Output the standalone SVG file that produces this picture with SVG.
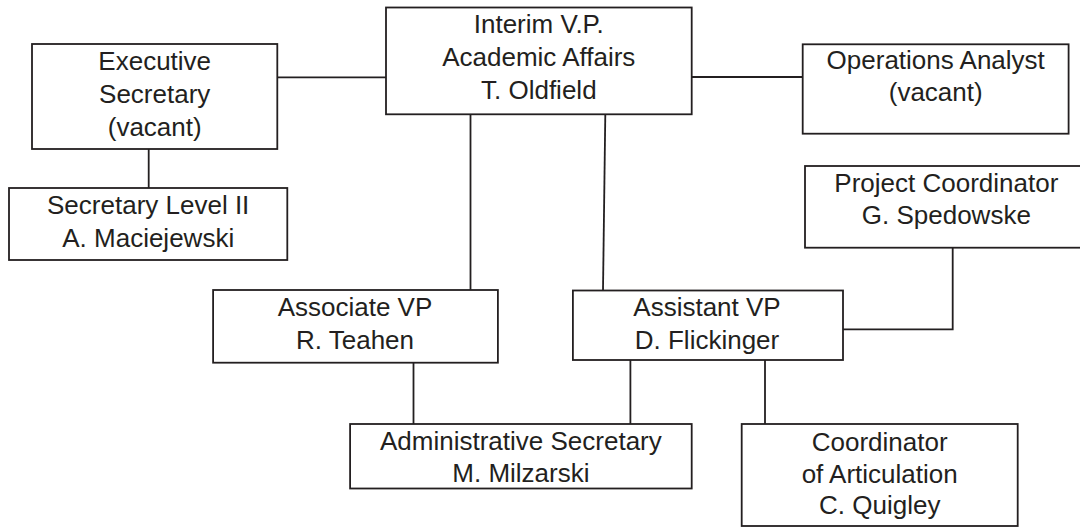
<svg xmlns="http://www.w3.org/2000/svg" width="1080" height="527" viewBox="0 0 1080 527">
<style>
.box{fill:#ffffff;stroke:#231f20;stroke-width:1.8}
.ln{fill:none;stroke:#231f20;stroke-width:1.8}
text{font-family:"Liberation Sans",Arial,sans-serif;font-size:26px;fill:#231f20;text-anchor:middle}
</style>
<rect width="1080" height="527" fill="#ffffff"/>
<g id="connectors">
<line class="ln" x1="277.3" y1="77.3" x2="389" y2="77.3"/>
<line class="ln" x1="691.7" y1="77" x2="802.7" y2="77"/>
<line class="ln" x1="148.7" y1="149" x2="148.7" y2="188"/>
<line class="ln" x1="470.5" y1="114.3" x2="470.5" y2="290"/>
<line class="ln" x1="605.3" y1="114.3" x2="603" y2="290.5"/>
<polyline class="ln" points="952.7,247.7 952.7,329.3 843,329.3"/>
<line class="ln" x1="413.5" y1="362.7" x2="413.5" y2="424"/>
<line class="ln" x1="630.4" y1="358" x2="630.4" y2="424"/>
<line class="ln" x1="765" y1="360" x2="765" y2="424"/>
</g>
<g id="interim">
<rect class="box" x="386" y="7.5" width="305.7" height="106.8"/>
<text x="538.8" y="32.7">Interim V.P.</text>
<text x="538.8" y="66">Academic Affairs</text>
<text x="538.8" y="99.3">T. Oldfield</text>
</g>
<g id="exec-secretary">
<rect class="box" x="32" y="44" width="245.3" height="105"/>
<text x="154.7" y="70">Executive</text>
<text x="154.7" y="103.3">Secretary</text>
<text x="154.7" y="136.3">(vacant)</text>
</g>
<g id="secretary-level-ii">
<rect class="box" x="9" y="188" width="278.3" height="72"/>
<text x="148.2" y="214.3">Secretary Level II</text>
<text x="148.2" y="246.5">A. Maciejewski</text>
</g>
<g id="operations-analyst">
<rect class="box" x="802.7" y="44.3" width="265.9" height="89.4"/>
<text x="935.7" y="69">Operations Analyst</text>
<text x="935.7" y="101">(vacant)</text>
</g>
<g id="project-coordinator">
<rect class="box" x="805" y="166" width="283" height="81.7"/>
<text x="946.3" y="191.7">Project Coordinator</text>
<text x="946.3" y="224">G. Spedowske</text>
</g>
<g id="associate-vp">
<rect class="box" x="213.1" y="290" width="284.8" height="72.7"/>
<text x="355" y="315.7">Associate VP</text>
<text x="355" y="349">R. Teahen</text>
</g>
<g id="assistant-vp">
<rect class="box" x="572.9" y="290.5" width="270.1" height="69.5"/>
<text x="707" y="315.7">Assistant VP</text>
<text x="707" y="349">D. Flickinger</text>
</g>
<g id="admin-secretary">
<rect class="box" x="350.1" y="424" width="341.6" height="64.5"/>
<text x="520.9" y="450">Administrative Secretary</text>
<text x="520.9" y="482.3">M. Milzarski</text>
</g>
<g id="coordinator-articulation">
<rect class="box" x="741.7" y="424" width="276" height="102"/>
<text x="879.7" y="450.7">Coordinator</text>
<text x="879.7" y="482.7">of Articulation</text>
<text x="879.7" y="514.3">C. Quigley</text>
</g>
</svg>
